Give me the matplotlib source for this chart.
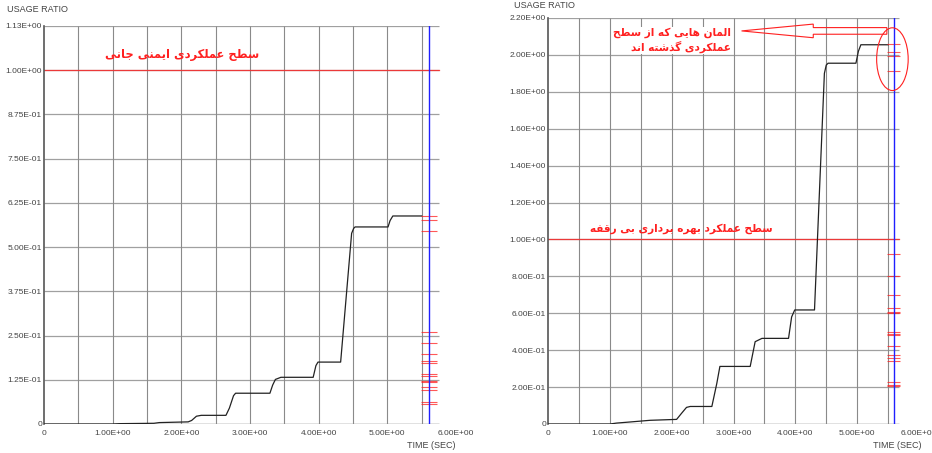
import numpy as np
import matplotlib
matplotlib.use('Agg')
import matplotlib.pyplot as plt
from matplotlib.patches import Ellipse

plt.rcParams['font.family'] = ['Liberation Sans', 'DejaVu Sans']

# ── data ─────────────────────────────────────────────────────────────
# left panel: usage ratio vs time (life-safety level)
t_left = [0, 1.0, 1.1, 1.6, 1.68, 2.1, 2.15, 2.22, 2.29, 2.65, 2.7, 2.76, 2.79,
          3.29, 3.33, 3.37, 3.45, 3.92, 3.96, 3.99, 4.32, 4.48, 4.51, 4.53,
          5.01, 5.04, 5.08, 5.5]
r_left = [0, 0, 0.001, 0.002, 0.004, 0.006, 0.01, 0.022, 0.0245, 0.0245, 0.045, 0.08, 0.087,
          0.087, 0.11, 0.126, 0.132, 0.132, 0.165, 0.175, 0.175, 0.539, 0.553, 0.557,
          0.557, 0.575, 0.588, 0.588]
marks_left = [0.588, 0.578, 0.546, 0.261, 0.23, 0.198, 0.179, 0.173, 0.140, 0.136,
              0.122, 0.118, 0.105, 0.097, 0.061, 0.057]

# right panel: usage ratio vs time (immediate occupancy level)
t_right = [0, 1.0, 1.11, 1.33, 1.65, 2.08, 2.16, 2.24, 2.3, 2.65, 2.73, 2.78,
           3.27, 3.35, 3.46, 3.89, 3.94, 3.99, 4.31, 4.47, 4.5, 4.53,
           4.98, 5.02, 5.06, 5.5]
r_right = [0, 0, 0.005, 0.011, 0.02, 0.025, 0.058, 0.09, 0.095, 0.095, 0.22, 0.312,
           0.312, 0.446, 0.464, 0.464, 0.58, 0.618, 0.618, 1.9, 1.945, 1.955,
           1.955, 2.02, 2.055, 2.055]
marks_right_top = [2.058, 2.018, 1.996, 1.915]
marks_right_low = [0.921, 0.804, 0.699, 0.630, 0.609, 0.600, 0.497, 0.488, 0.481,
                   0.423, 0.372, 0.360, 0.343, 0.226, 0.213, 0.204]

yt_left = [0, 0.125, 0.25, 0.375, 0.5, 0.625, 0.75, 0.875, 1.0, 1.125]
yl_left = ['0', '1.25E-01', '2.50E-01', '3.75E-01', '5.00E-01', '6.25E-01',
           '7.50E-01', '8.75E-01', '1.00E+00', '1.13E+00']
yt_right = [0, 0.2, 0.4, 0.6, 0.8, 1.0, 1.2, 1.4, 1.6, 1.8, 2.0, 2.2]
yl_right = ['0', '2.00E-01', '4.00E-01', '6.00E-01', '8.00E-01', '1.00E+00',
            '1.20E+00', '1.40E+00', '1.60E+00', '1.80E+00', '2.00E+00', '2.20E+00']
xt = [0, 1, 2, 3, 4, 5, 6]
xl = ['0', '1.00E+00', '2.00E+00', '3.00E+00', '4.00E+00', '5.00E+00', '6.00E+00']
xgrid = [0.5, 1, 1.5, 2, 2.5, 3, 3.5, 4, 4.5, 5, 5.5]

txt_left = 'سطح عملکردی ایمنی جانی'
txt_right_a = ['المان هایی که از سطح', 'عملکردی گذشته اند']
txt_right_b = 'سطح عملکرد بهره برداری بی رقفه'

# ── minimal Persian shaping (matplotlib has no complex text layout) ──
FORMS = {
    'ا': ('\uFE8D', '\uFE8E', None, None),
    'ب': ('\uFE8F', '\uFE90', '\uFE91', '\uFE92'),
    'ت': ('\uFE95', '\uFE96', '\uFE97', '\uFE98'),
    'ج': ('\uFE9D', '\uFE9E', '\uFE9F', '\uFEA0'),
    'ح': ('\uFEA1', '\uFEA2', '\uFEA3', '\uFEA4'),
    'د': ('\uFEA9', '\uFEAA', None, None),
    'ذ': ('\uFEAB', '\uFEAC', None, None),
    'ر': ('\uFEAD', '\uFEAE', None, None),
    'ز': ('\uFEAF', '\uFEB0', None, None),
    'س': ('\uFEB1', '\uFEB2', '\uFEB3', '\uFEB4'),
    'ش': ('\uFEB5', '\uFEB6', '\uFEB7', '\uFEB8'),
    'ط': ('\uFEC1', '\uFEC2', '\uFEC3', '\uFEC4'),
    'ع': ('\uFEC9', '\uFECA', '\uFECB', '\uFECC'),
    'ف': ('\uFED1', '\uFED2', '\uFED3', '\uFED4'),
    'ق': ('\uFED5', '\uFED6', '\uFED7', '\uFED8'),
    'ل': ('\uFEDD', '\uFEDE', '\uFEDF', '\uFEE0'),
    'م': ('\uFEE1', '\uFEE2', '\uFEE3', '\uFEE4'),
    'ن': ('\uFEE5', '\uFEE6', '\uFEE7', '\uFEE8'),
    'ه': ('\uFEE9', '\uFEEA', '\uFEEB', '\uFEEC'),
    'و': ('\uFEED', '\uFEEE', None, None),
    'ک': ('\uFB8E', '\uFB8F', '\uFB90', '\uFB91'),
    'گ': ('\uFB92', '\uFB93', '\uFB94', '\uFB95'),
    'ی': ('\uFBFC', '\uFBFD', '\uFBFE', '\uFBFF'),
}


def shape(s):
    out = []
    for i, c in enumerate(s):
        if c not in FORMS:
            out.append(c)
            continue
        f = FORMS[c]
        prev = s[i - 1] if i > 0 else None
        nxt = s[i + 1] if i + 1 < len(s) else None
        jp = prev in FORMS and FORMS[prev][2] is not None
        jn = nxt in FORMS and f[2] is not None
        if jp and jn:
            out.append(f[3])
        elif jp:
            out.append(f[1])
        elif jn:
            out.append(f[2])
        else:
            out.append(f[0])
    return ''.join(reversed(out))


RED = '#ff2020'
GRID = '#a0a0a0'
TICKC = '#444444'
FA = dict(family=['DejaVu Sans'], fontweight='bold', color=RED)

W, H = 932, 453
fig = plt.figure(figsize=(W / 100, H / 100), dpi=100)
ax1 = fig.add_axes([44 / W, 29 / H, 412 / W, 398 / H])
ax2 = fig.add_axes([548 / W, 29 / H, 371 / W, 406 / H])


def frame(ax, yt, yl, xend):
    top = yt[-1]
    ax.set_xlim(0, 6)
    ax.set_ylim(0, top)
    for s in ['top', 'right', 'bottom']:
        ax.spines[s].set_visible(False)
    ax.spines['left'].set_color('#555555')
    ax.spines['left'].set_linewidth(1.2)
    ax.hlines(yt[1:], 0, xend, color=GRID, lw=0.9, zorder=1)
    ax.hlines(0, 0, xend, color='#666666', lw=1.0, zorder=1)
    ax.vlines(xgrid, 0, top, color='#8a8a8a', lw=0.8, zorder=1)
    ax.set_yticks(yt)
    ax.set_yticklabels(yl)
    ax.set_xticks(xt)
    ax.set_xticklabels(xl)
    ax.tick_params(length=0, labelsize=6, colors=TICKC)
    ax.tick_params(axis='y', pad=1.5)
    ax.tick_params(axis='x', pad=4)
    ax.axhline(1.0, xmax=xend / 6, color=RED, lw=0.9, alpha=0.8, zorder=2)
    ax.axvline(5.6, ymax=1, color='#2020ff', lw=1.0, zorder=4)


# ── left panel ───────────────────────────────────────────────────────
frame(ax1, yt_left, yl_left, 5.75)
ax1.plot(t_left, r_left, color='#222222', lw=0.9, zorder=3)
ax1.hlines(marks_left, 5.49, 5.72, color=RED, lw=0.8, alpha=0.75, zorder=3)
ax1.text(2.01, 1.045, shape(txt_left), ha='center', va='center', fontsize=8.3, **FA)

# ── right panel ──────────────────────────────────────────────────────
frame(ax2, yt_right, yl_right, 5.68)
ax2.plot(t_right, r_right, color='#222222', lw=0.9, zorder=3)
ax2.hlines(marks_right_top, 5.48, 5.70, color=RED, lw=0.8, alpha=0.75, zorder=3)
ax2.hlines(marks_right_low, 5.48, 5.70, color=RED, lw=0.8, alpha=0.75, zorder=3)
ax2.text(2.96, 2.08, '\n'.join(shape(s) for s in txt_right_a), ha='right', va='center',
         ma='right', fontsize=7.6, linespacing=1.25,
         bbox=dict(fc='white', ec='none', pad=0.5), zorder=5, **FA)
ax2.text(2.16, 1.057, shape(txt_right_b), ha='center', va='center', fontsize=7.6, **FA)
ax2.add_patch(Ellipse((5.57, 1.977), 0.51, 0.34, fill=False, ec=RED, lw=0.8, zorder=5))
ax2.arrow(5.48, 2.13, -2.35, 0, width=0.036, head_width=0.074, head_length=1.16,
          length_includes_head=True, fc='none', ec=RED, lw=0.8, zorder=5)

# ── axis captions ────────────────────────────────────────────────────
for x, y in [(7, 10), (514, 5)]:
    fig.text(x / W, 1 - y / H, 'USAGE RATIO', fontsize=6.5, color=TICKC, va='center')
for x, y in [(407, 446), (873, 446)]:
    fig.text(x / W, 1 - y / H, 'TIME (SEC)', fontsize=6.5, color=TICKC, va='center')

fig.savefig('out.png', dpi=100)
